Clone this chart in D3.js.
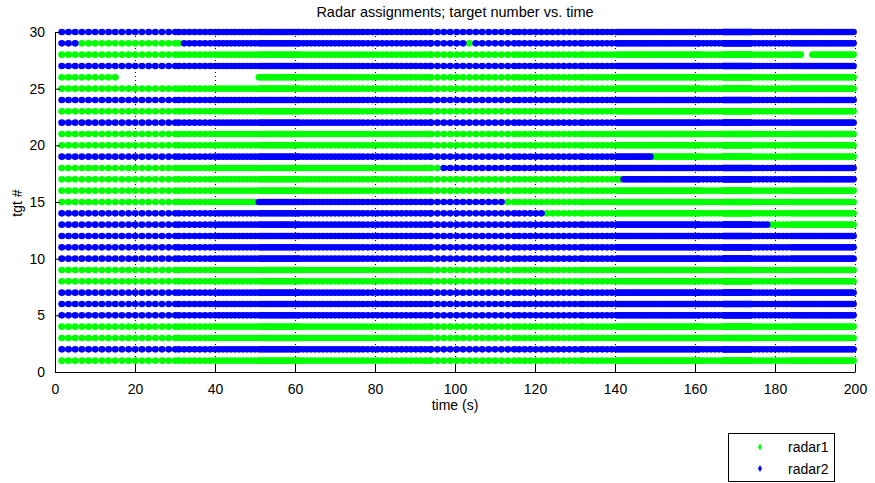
<!DOCTYPE html>
<html>
<head>
<meta charset="utf-8">
<script src="https://cdn.jsdelivr.net/npm/d3@7"></script>
<style>
  html, body { margin: 0; padding: 0; background: #fff; }
  svg text { font-family: "Liberation Sans", Arial, Helvetica, sans-serif; fill: #000; }
</style>
</head>
<body>
<svg id="chart" width="875" height="483"></svg>
<script>
// Targets 1..30 and the radar each one starts on (1 = radar1, 2 = radar2)
const targetIds = [1,2,3,4,5,6,7,8,9,10,11,12,13,14,15,16,17,18,19,20,21,22,23,24,25,26,27,28,29,30];
const initialRadar = [1,2,1,1,2,2,2,1,1,2,2,2,2,2,1,1,1,1,2,1,1,2,1,2,1,1,2,1,2,2];

// Hand-overs: [target, time (s), new radar]
const switches = [
  [13, 178.3, 1],
  [14, 122.0, 1],
  [15, 50.2, 2],
  [15, 112.0, 1],
  [17, 142.0, 2],
  [18, 96.3, 2],
  [19, 149.0, 1],
  [29, 6.5, 1],
  [29, 31.3, 2],
  [29, 103.2, 1],
  [29, 104.2, 2]
];

// Intervals where a target has no assignment: [target, from, to]
const gaps = [
  [26, 16.0, 50.5],
  [28, 186.8, 189.2]
];

// Simulation update times come in runs of [from, to, step] seconds
const sampleSpans = [
  [1.7, 31, 1.67],
  [31, 40, 1.3],
  [40, 51, 1.0],
  [51, 61, 0.6],
  [61, 77, 1.0],
  [77, 94, 1.2],
  [94, 116, 1.6],
  [116, 132, 1.4],
  [132, 141, 1.2],
  [141, 161, 0.6],
  [161, 167, 1.0],
  [167, 174, 0.3],
  [174, 184, 1.0],
  [184, 199.6, 0.6]
];
const lastSample = 199.6;

const xTicks = [0, 20, 40, 60, 80, 100, 120, 140, 160, 180, 200];
const yTicks = [0, 5, 10, 15, 20, 25, 30];
const radarNames = ["radar1", "radar2"];
const radarColors = ["#00ff00", "#0000ff"];

const svg = d3.select("#chart");
const x = d3.scaleLinear().domain([0, 200]).range([55, 855]);
const y = d3.scaleLinear().domain([0, 30]).range([372, 32]);

// Sample times
const times = [];
sampleSpans.forEach(([a, b, s]) => d3.range(a, b, s).forEach(t => times.push(t)));
times.push(lastSample);

// Build the assignment points for each target
const points = [];
targetIds.forEach((tgt, i) => {
  const sw = switches.filter(d => d[0] === tgt).sort((p, q) => p[1] - q[1]);
  const gp = gaps.filter(d => d[0] === tgt);
  times.forEach(t => {
    if (gp.some(g => t > g[1] && t < g[2])) return;
    let r = initialRadar[i];
    sw.forEach(s => { if (t >= s[1]) r = s[2]; });
    points.push({ t, tgt, r });
  });
});

// Dotted vertical grid
svg.append("g")
  .selectAll("line")
  .data(xTicks.slice(1))
  .join("line")
  .attr("x1", d => x(d)).attr("x2", d => x(d))
  .attr("y1", y(30)).attr("y2", y(0))
  .attr("stroke", "#000")
  .attr("stroke-width", 1)
  .attr("stroke-dasharray", "1,3")
  .attr("shape-rendering", "crispEdges");

// Markers: radar1 first, radar2 drawn on top
[1, 2].forEach(r => {
  svg.append("g")
    .selectAll("ellipse")
    .data(points.filter(p => p.r === r))
    .join("ellipse")
    .attr("cx", d => x(d.t))
    .attr("cy", d => y(d.tgt))
    .attr("rx", 3.5)
    .attr("ry", 3.3)
    .attr("fill", radarColors[r - 1]);
});

// Axes with inward ticks
const xAxis = d3.axisBottom(x).tickValues(xTicks).tickSizeInner(-8).tickSizeOuter(0).tickPadding(12);
const gx = svg.append("g").attr("transform", `translate(0,${y(0)})`).call(xAxis);
const yAxis = d3.axisLeft(y).tickValues(yTicks).tickSizeInner(-5).tickSizeOuter(0).tickPadding(10);
const gy = svg.append("g").attr("transform", `translate(${x(0)},0)`).call(yAxis);
[gx, gy].forEach(g => {
  g.select(".domain").attr("stroke", "#000");
  g.selectAll(".tick line").attr("stroke", "#000");
  g.selectAll(".tick text").attr("font-size", 14).attr("font-family", "Liberation Sans, Arial, sans-serif");
});

// Title and axis labels
svg.append("text")
  .attr("x", 455).attr("y", 17)
  .attr("text-anchor", "middle")
  .attr("font-size", 14.5)
  .text("Radar assignments; target number vs. time");

svg.append("text")
  .attr("x", 455).attr("y", 410)
  .attr("text-anchor", "middle")
  .attr("font-size", 14)
  .text("time (s)");

svg.append("text")
  .attr("transform", "translate(22,203) rotate(-90)")
  .attr("text-anchor", "middle")
  .attr("font-size", 14)
  .text("tgt #");

// Legend
const legend = svg.append("g");
legend.append("rect")
  .attr("x", 728.5).attr("y", 433.5)
  .attr("width", 106).attr("height", 48)
  .attr("fill", "#fff")
  .attr("stroke", "#000");
radarNames.forEach((name, i) => {
  const cy = 447 + i * 21.5;
  legend.append("path")
    .attr("d", d3.symbol(d3.symbolDiamond, 14)())
    .attr("transform", `translate(760,${cy})`)
    .attr("fill", radarColors[i]);
  legend.append("text")
    .attr("x", 788).attr("y", cy + 5)
    .attr("font-size", 14)
    .text(name);
});
</script>
</body>
</html>
